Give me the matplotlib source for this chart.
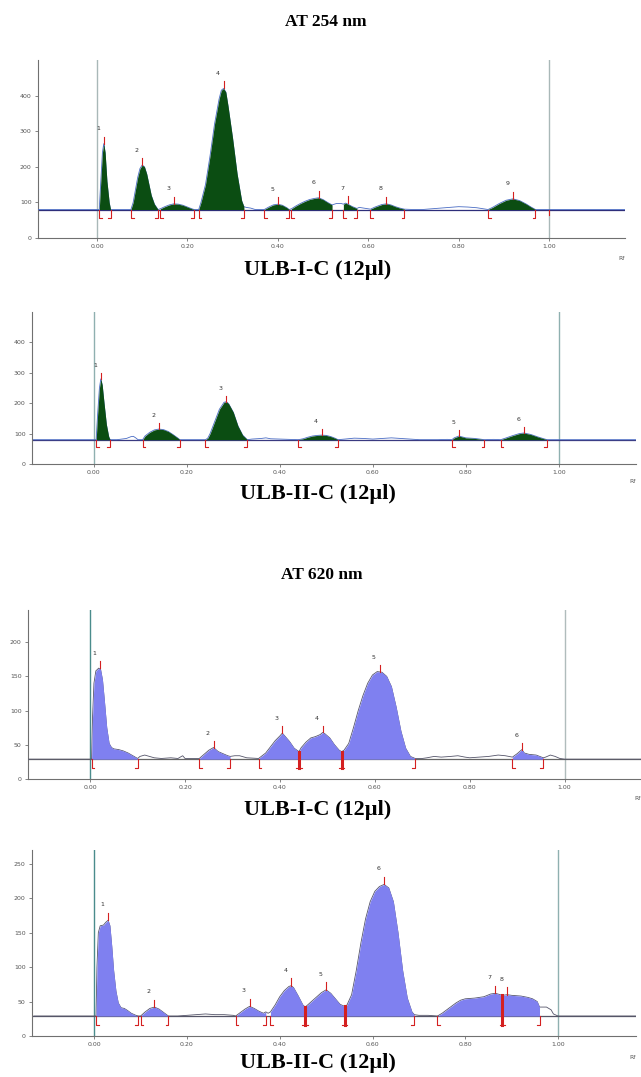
"""HPTLC densitograms of ULB-I-C and ULB-II-C at 254 nm and 620 nm."""

import matplotlib
matplotlib.use("Agg")
import matplotlib.pyplot as plt
import numpy as np

# ---- 254 nm, ULB-I-C -------------------------------------------------------
P1_RF = [-0.13, 0.005, 0.008, 0.012, 0.015, 0.018, 0.022, 0.027, 0.03,
         0.075, 0.08, 0.085, 0.09, 0.095, 0.10, 0.105, 0.11, 0.115, 0.12, 0.127, 0.135,
         0.14, 0.15, 0.16, 0.17, 0.18, 0.19, 0.20, 0.21, 0.215,
         0.225, 0.23, 0.24, 0.25, 0.26, 0.27, 0.275, 0.28, 0.285, 0.29, 0.30, 0.31, 0.32, 0.325,
         0.33, 0.34, 0.35, 0.37, 0.38, 0.39, 0.40, 0.41, 0.42, 0.425,
         0.43, 0.44, 0.45, 0.46, 0.47, 0.48, 0.49, 0.50, 0.51, 0.52, 0.53, 0.54, 0.545, 0.55,
         0.555, 0.565, 0.575, 0.58, 0.59, 0.60, 0.605, 0.615, 0.63, 0.64, 0.65, 0.66, 0.67,
         0.68, 0.70, 0.72, 0.74, 0.76, 0.78, 0.80, 0.82, 0.84, 0.855, 0.865, 0.875, 0.89,
         0.905, 0.92, 0.935, 0.95, 0.96, 0.97, 1.17]
P1_SIGNAL = [80, 80, 150, 240, 265, 240, 160, 100, 80,
             80, 100, 135, 170, 195, 205, 200, 180, 150, 120, 95, 80,
             82, 88, 93, 96, 95, 92, 87, 82, 80,
             80, 100, 150, 230, 320, 390, 415, 420, 410, 370, 280, 180, 105, 88,
             86, 84, 80, 80, 87, 93, 95, 92, 85, 80,
             82, 90, 97, 103, 108, 111, 113, 108, 100, 93, 97, 97, 95, 98,
             95, 88, 83, 86, 84, 82, 81, 87, 94, 96, 93, 88, 84,
             81, 80, 80, 82, 84, 86, 88, 87, 85, 82, 80, 86, 97,
             106, 110, 105, 95, 87, 80, 80]
P1_LABELS = ["1", "2", "3", "4", "5", "6", "7", "8", "9"]
P1_APEX_RF = [0.015, 0.10, 0.17, 0.28, 0.40, 0.49, 0.555, 0.64, 0.92]
P1_APEX = [265, 205, 96, 420, 95, 113, 98, 96, 110]
P1_START = [0.005, 0.075, 0.14, 0.225, 0.37, 0.43, 0.545, 0.605, 0.865]
P1_END = [0.03, 0.135, 0.215, 0.325, 0.425, 0.52, 0.575, 0.68, 0.97]
P1_SPLITS = []

# ---- 254 nm, ULB-II-C ------------------------------------------------------
P2_RF = [-0.13, 0.005, 0.008, 0.012, 0.015, 0.018, 0.022, 0.027, 0.032, 0.035,
         0.05, 0.06, 0.07, 0.08, 0.085, 0.09, 0.095,
         0.105, 0.11, 0.12, 0.13, 0.14, 0.15, 0.16, 0.17, 0.18, 0.185,
         0.20, 0.24, 0.245, 0.25, 0.26, 0.27, 0.28, 0.285, 0.29, 0.30, 0.31, 0.32, 0.33,
         0.34, 0.36, 0.37, 0.38, 0.40, 0.42,
         0.44, 0.45, 0.46, 0.47, 0.48, 0.49, 0.50, 0.51, 0.52, 0.525,
         0.54, 0.56, 0.58, 0.60, 0.62, 0.64, 0.66, 0.68, 0.70, 0.74, 0.76,
         0.77, 0.775, 0.785, 0.79, 0.80, 0.82, 0.84,
         0.86, 0.875, 0.885, 0.90, 0.915, 0.925, 0.94, 0.955, 0.97, 0.975, 1.17]
P2_SIGNAL = [80, 80, 160, 250, 280, 260, 200, 130, 90, 80,
             80, 82, 84, 90, 91, 86, 80,
             80, 92, 104, 112, 115, 113, 107, 97, 86, 80,
             80, 80, 85, 100, 140, 180, 203, 205, 198, 170, 125, 95, 80,
             82, 84, 86, 83, 82, 81,
             80, 83, 88, 92, 94, 95, 94, 90, 84, 80,
             82, 85, 84, 82, 84, 86, 84, 82, 80, 80, 81,
             80, 86, 92, 90, 86, 84, 80,
             81, 80, 85, 93, 100, 102, 97, 89, 82, 80, 80]
P2_LABELS = ["1", "2", "3", "4", "5", "6"]
P2_APEX_RF = [0.015, 0.14, 0.285, 0.49, 0.785, 0.925]
P2_APEX = [280, 115, 205, 95, 92, 102]
P2_START = [0.005, 0.105, 0.24, 0.44, 0.77, 0.875]
P2_END = [0.035, 0.185, 0.33, 0.525, 0.84, 0.975]
P2_SPLITS = []

# ---- 620 nm, ULB-I-C -------------------------------------------------------
P3_RF = [-0.13, 0.003, 0.005, 0.008, 0.012, 0.018, 0.022, 0.026, 0.03, 0.035, 0.04,
         0.045, 0.05, 0.06, 0.07, 0.08, 0.09, 0.10,
         0.105, 0.115, 0.125, 0.135, 0.15, 0.17, 0.185, 0.195, 0.20, 0.215,
         0.23, 0.24, 0.25, 0.26, 0.265, 0.27, 0.28, 0.29, 0.295,
         0.305, 0.315, 0.33, 0.355, 0.37, 0.38, 0.39, 0.40, 0.405, 0.41, 0.42, 0.43, 0.44,
         0.445, 0.455, 0.465, 0.475, 0.485, 0.49, 0.495, 0.505, 0.515, 0.525, 0.53,
         0.535, 0.545, 0.555, 0.565, 0.575, 0.585, 0.595, 0.605, 0.615, 0.625, 0.635,
         0.645, 0.655, 0.665, 0.675, 0.685,
         0.70, 0.71, 0.725, 0.74, 0.76, 0.775, 0.79, 0.80, 0.82, 0.84, 0.86, 0.875,
         0.89, 0.90, 0.91, 0.915, 0.925, 0.94, 0.955, 0.96, 0.97, 0.98, 0.99, 1.0, 1.17]
P3_SIGNAL = [29, 29, 90, 140, 158, 162, 160, 145, 115, 75, 52,
             46, 44, 43, 41, 38, 34, 30,
             33, 35, 33, 31, 30, 31, 30, 34, 30, 30,
             30, 36, 42, 46, 43, 40, 37, 34, 33,
             34, 34, 31, 30, 38, 47, 56, 63, 67, 63, 55, 45, 40,
             46, 54, 60, 62, 65, 68, 66, 60, 50, 42, 40,
             42, 52, 75, 100, 122, 140, 152, 157, 156, 150, 135,
             105, 70, 45, 33, 30,
             30, 31, 33, 32, 33, 34, 32, 31, 32, 33, 35, 34,
             32, 37, 43, 38, 36, 35, 31, 32, 35, 33, 30, 29, 29]
P3_LABELS = ["1", "2", "3", "4", "5", "6"]
P3_APEX_RF = [0.02, 0.26, 0.405, 0.49, 0.61, 0.91]
P3_APEX = [162, 46, 67, 68, 157, 43]
P3_START = [0.003, 0.23, 0.355, 0.44, 0.53, 0.89]
P3_END = [0.10, 0.295, 0.44, 0.53, 0.685, 0.955]
P3_SPLITS = [0.44, 0.53]

# ---- 620 nm, ULB-II-C ------------------------------------------------------
P4_RF = [-0.13, 0.004, 0.006, 0.009, 0.013, 0.02, 0.025, 0.03, 0.034, 0.038, 0.042,
         0.047, 0.052, 0.058, 0.065, 0.072, 0.08, 0.09, 0.095,
         0.10, 0.11, 0.12, 0.13, 0.14, 0.15, 0.16,
         0.18, 0.20, 0.22, 0.24, 0.26, 0.28, 0.30,
         0.305, 0.315, 0.325, 0.335, 0.345, 0.355, 0.365, 0.37,
         0.375, 0.38, 0.39, 0.40, 0.41, 0.42, 0.425, 0.43, 0.44, 0.45, 0.455,
         0.46, 0.47, 0.48, 0.49, 0.50, 0.51, 0.52, 0.53, 0.54,
         0.545, 0.555, 0.565, 0.575, 0.585, 0.595, 0.605, 0.615, 0.625, 0.635, 0.645,
         0.655, 0.665, 0.675, 0.685, 0.69,
         0.70, 0.72, 0.74, 0.75, 0.76, 0.77, 0.78, 0.79, 0.80, 0.82, 0.84, 0.855, 0.865,
         0.875, 0.88, 0.89, 0.90, 0.92, 0.935, 0.945, 0.955, 0.96,
         0.975, 0.985, 0.99, 1.0, 1.17]
P4_SIGNAL = [29, 29, 100, 150, 160, 161, 165, 168, 160, 130, 95,
             65, 48, 41, 40, 37, 33, 30, 29,
             29, 35, 40, 42, 39, 34, 29,
             29, 30, 31, 32, 31, 31, 30,
             29, 34, 39, 43, 40, 36, 33, 35,
             33, 35, 45, 57, 66, 72, 73, 70, 58, 45, 42,
             45, 51, 57, 63, 67, 62, 54, 46, 43,
             45, 60, 95, 135, 170, 195, 210, 217, 220, 215, 195,
             150, 95, 55, 35, 31,
             30, 30, 29, 33, 38, 43, 48, 52, 54, 55, 57, 61, 62,
             60, 59, 60, 59, 58, 56, 54, 50, 42,
             42, 38, 32, 29, 29]
P4_LABELS = ["1", "2", "3", "4", "5", "6", "7", "8"]
P4_APEX_RF = [0.03, 0.13, 0.335, 0.425, 0.50, 0.625, 0.865, 0.89]
P4_APEX = [168, 42, 43, 73, 67, 220, 62, 60]
P4_START = [0.004, 0.10, 0.305, 0.38, 0.455, 0.54, 0.74, 0.88]
P4_END = [0.095, 0.16, 0.37, 0.455, 0.54, 0.69, 0.88, 0.96]
P4_SPLITS = [0.455, 0.54, 0.88]

X_TICKS = [0.0, 0.2, 0.4, 0.6, 0.8, 1.0]
W, H = 641, 1077

RED = "#d42020"


def fig_box(left, right, top, bottom):
    """Pixel box -> figure fraction rect."""
    return [left / W, 1 - bottom / H, (right - left) / W, (bottom - top) / H]


def draw_panel(ax, rf, sig, labels, apex_rf, apex, starts, ends, splits, *,
               baseline, ymax, yticks, xlim, fill, trace_color, base_color, vline_colors):
    rf = np.asarray(rf, dtype=float)
    sig = np.asarray(sig, dtype=float)
    ax.set_xlim(*xlim)
    ax.set_ylim(0, ymax)

    for x, c in zip([0.0, 1.0], vline_colors):
        ax.axvline(x, color=c, lw=1.0, zorder=1)
    ax.axhline(baseline, color=base_color, lw=0.9, zorder=2)
    ax.plot(rf, sig, color=trace_color, lw=0.6, zorder=3)

    for s, e in zip(starts, ends):
        m = (rf >= s - 1e-9) & (rf <= e + 1e-9)
        ax.fill_between(rf[m], baseline, sig[m], color=fill, lw=0, zorder=4)

    d = 0.05 * ymax
    foot = 0.006
    for s, e in zip(starts, ends):
        if not any(abs(s - x) < 1e-6 for x in splits):
            ax.plot([s, s, s + foot], [baseline, baseline - d, baseline - d], color=RED, lw=0.8, zorder=5)
        if not any(abs(e - x) < 1e-6 for x in splits):
            ax.plot([e, e, e - foot], [baseline, baseline - d, baseline - d], color=RED, lw=0.8, zorder=5)
    for x in splits:
        top = np.interp(x, rf, sig)
        ax.plot([x, x], [baseline - d, top], color=RED, lw=2.2, zorder=5)
        ax.plot([x - foot, x + foot], [baseline - d, baseline - d], color=RED, lw=0.8, zorder=5)

    for lab, x, y in zip(labels, apex_rf, apex):
        ax.plot([x, x], [y, y + 0.04 * ymax], color=RED, lw=0.8, zorder=5)
        ax.text(x - 0.012, y + 0.07 * ymax, lab, fontsize=4.5, color="#333333",
                ha="center", va="bottom")

    for side in ["top", "right"]:
        ax.spines[side].set_visible(False)
    for side in ["left", "bottom"]:
        ax.spines[side].set_color("#707070")
        ax.spines[side].set_linewidth(0.8)
    ax.set_xticks(X_TICKS)
    ax.set_xticklabels([f"{t:.2f}" for t in X_TICKS])
    ax.set_yticks(yticks)
    ax.tick_params(labelsize=4.5, colors="#707070", labelcolor="#555555", length=2.5, width=0.6, pad=2)
    ax.text(xlim[1], -0.1 * ymax, "Rf", fontsize=4.5, color="#555555", ha="right", va="top")


def main() -> None:
    fig = plt.figure(figsize=(W / 100, H / 100), dpi=100)
    green = "#0b4d12"
    blue = "#7f80f0"

    ax1 = fig.add_axes(fig_box(38, 625, 60, 238))
    draw_panel(ax1, P1_RF, P1_SIGNAL, P1_LABELS, P1_APEX_RF, P1_APEX, P1_START, P1_END, P1_SPLITS,
               baseline=80, ymax=500, yticks=[0, 100, 200, 300, 400], xlim=(-0.1305, 1.168),
               fill=green, trace_color="#4a6cc4", base_color="#2e2e7a",
               vline_colors=["#a9b8b8", "#a9b8b8"])
    ax1.plot([1.0, 1.0], [80, 65], color=RED, lw=0.8, zorder=5)

    ax2 = fig.add_axes(fig_box(32, 636, 312, 464))
    draw_panel(ax2, P2_RF, P2_SIGNAL, P2_LABELS, P2_APEX_RF, P2_APEX, P2_START, P2_END, P2_SPLITS,
               baseline=80, ymax=500, yticks=[0, 100, 200, 300, 400], xlim=(-0.133, 1.166),
               fill=green, trace_color="#4a6cc4", base_color="#3a3a80",
               vline_colors=["#8fb0b0", "#8fb0b0"])

    ax3 = fig.add_axes(fig_box(28, 641, 610, 779))
    draw_panel(ax3, P3_RF, P3_SIGNAL, P3_LABELS, P3_APEX_RF, P3_APEX, P3_START, P3_END, P3_SPLITS,
               baseline=29, ymax=247, yticks=[0, 50, 100, 150, 200], xlim=(-0.131, 1.161),
               fill=blue, trace_color="#55556a", base_color="#666666",
               vline_colors=["#4a8c8c", "#b0bcbc"])

    ax4 = fig.add_axes(fig_box(32, 636, 850, 1036))
    draw_panel(ax4, P4_RF, P4_SIGNAL, P4_LABELS, P4_APEX_RF, P4_APEX, P4_START, P4_END, P4_SPLITS,
               baseline=29, ymax=270, yticks=[0, 50, 100, 150, 200, 250], xlim=(-0.134, 1.168),
               fill=blue, trace_color="#55556a", base_color="#555566",
               vline_colors=["#4a8c8c", "#8fb0b0"])

    serif = dict(family="Liberation Serif", weight="bold", ha="center", va="center")
    fig.text(326 / W, 1 - 22 / H, "AT 254 nm", fontsize=12.5, **serif)
    fig.text(318 / W, 1 - 270 / H, "ULB-I-C (12µl)", fontsize=16, **serif)
    fig.text(318 / W, 1 - 494 / H, "ULB-II-C (12µl)", fontsize=16, **serif)
    fig.text(322 / W, 1 - 575 / H, "AT 620 nm", fontsize=12.5, **serif)
    fig.text(318 / W, 1 - 810 / H, "ULB-I-C (12µl)", fontsize=16, **serif)
    fig.text(318 / W, 1 - 1063 / H, "ULB-II-C (12µl)", fontsize=16, **serif)

    fig.savefig("out.png", dpi=100)
    plt.close(fig)


if __name__ == "__main__":
    main()
